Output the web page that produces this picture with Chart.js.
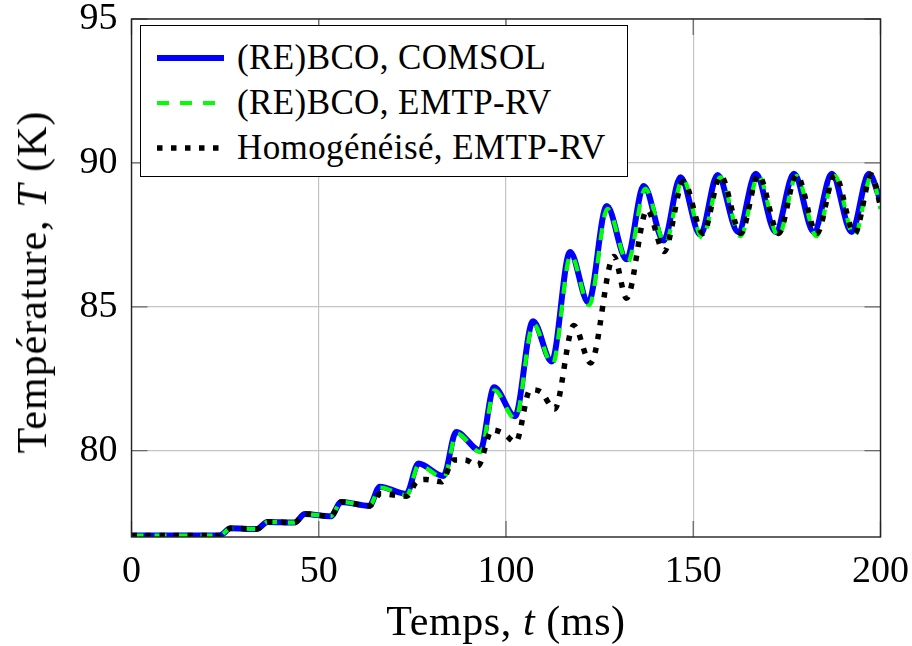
<!DOCTYPE html>
<html>
<head>
<meta charset="utf-8">
<script src="https://cdn.jsdelivr.net/npm/chart.js@4.4.1/dist/chart.umd.min.js"></script>
<style>
  html, body { margin: 0; padding: 0; background: #fff; }
  #wrap { position: relative; width: 912px; height: 646px; font-family: 'Liberation Serif', serif; color: #000; }
  #chart { position: absolute; left: 0; top: 0; }
  .title { position: absolute; white-space: nowrap; font-size: 42px; line-height: 42px; letter-spacing: 0.6px; }
  #xTitle { left: 506px; top: 621px; transform: translate(-50%, -50%); }
  #yTitle { left: 32px; top: 282px; transform: translate(-50%, -50%) rotate(-90deg); letter-spacing: 1px; }
  #legend { position: absolute; left: 140px; top: 25px; width: 486px; height: 150px; border: 1.3px solid #000; background: #fff; }
  .row { position: absolute; left: 0; height: 40px; display: flex; align-items: center; font-size: 35px; letter-spacing: 0.4px; white-space: nowrap; font-family: 'Liberation Serif', serif; }
  .row svg { margin-left: 16px; margin-right: 13px; }
</style>
</head>
<body>
<div id="wrap">
  <canvas id="chart" width="912" height="646"></canvas>
  <div id="legend"></div>
  <div id="xTitle" class="title">Temps, <i>t</i> (ms)</div>
  <div id="yTitle" class="title">Température, <i>T</i> (K)</div>
</div>
<script>
// Axis ticks
const xTickValues = [0, 50, 100, 150, 200];
const yTickValues = [80, 85, 90, 95];

// (RE)BCO, COMSOL
const comsolTime = [0, 23.5, 26.5, 33.5, 36.3, 43.5, 46.3, 53.2, 56.0, 63.5, 66.3, 73.4, 76.6, 83.3, 86.7, 93.1, 96.8, 102.4, 107.2, 112.2,
  117.1, 122.0, 126.9, 132.2, 136.8, 142.1, 146.6, 151.9, 156.5, 162.0, 166.7, 172.0, 176.9, 182.2, 187.0, 192.3, 196.9, 200];
const comsolTemp = [77.05, 77.05, 77.3, 77.28, 77.52, 77.5, 77.8, 77.72, 78.22, 78.08, 78.75, 78.5, 79.55, 79.12, 80.65, 80.0, 82.2, 81.2, 84.5, 83.1,
  86.9, 85.15, 88.5, 86.65, 89.2, 87.3, 89.5, 87.5, 89.58, 87.6, 89.62, 87.6, 89.62, 87.6, 89.62, 87.6, 89.62, 88.7];

// (RE)BCO, EMTP-RV
const emtpTime = [0, 23.5, 26.5, 33.5, 36.3, 43.5, 46.3, 53.2, 56.0, 63.5, 66.4, 73.5, 76.7, 83.4, 86.8, 93.2, 96.9, 102.5, 107.3, 112.4,
  117.3, 122.2, 127.1, 132.5, 137.2, 142.5, 147.2, 152.4, 157.2, 162.6, 167.4, 172.7, 177.6, 182.9, 187.8, 193.0, 197.6, 200];
const emtpTemp = [77.05, 77.05, 77.3, 77.28, 77.52, 77.5, 77.8, 77.72, 78.22, 78.08, 78.72, 78.45, 79.5, 79.05, 80.6, 79.95, 82.1, 81.1, 84.4, 83.0,
  86.8, 85.05, 88.4, 86.55, 89.1, 87.2, 89.45, 87.4, 89.5, 87.45, 89.55, 87.45, 89.55, 87.45, 89.55, 87.45, 89.55, 88.4];

// Homogénéisé, EMTP-RV
const homogTime = [0, 23.5, 26.5, 33.5, 36.3, 43.5, 46.3, 53.2, 56.0, 63.5, 66.5, 73.5, 76.0, 78.5, 82.8, 86.0, 89.0, 92.5, 96.3, 99.3,
  102.6, 106.5, 109.2, 113.0, 118.1, 122.6, 128.8, 132.2, 137.7, 142.2, 147.4, 152.6, 157.3, 162.7, 167.4, 172.8, 177.6, 183.0, 187.8, 193.1, 197.6, 200];
const homogTemp = [77.05, 77.05, 77.3, 77.28, 77.52, 77.5, 77.8, 77.72, 78.22, 78.08, 78.5, 78.42, 78.9, 79.0, 78.92, 79.68, 79.68, 79.48, 80.72, 80.6,
  80.3, 82.12, 82.05, 81.45, 84.35, 83.05, 86.75, 85.3, 88.37, 86.92, 89.35, 87.55, 89.55, 87.55, 89.58, 87.55, 89.58, 87.55, 89.58, 87.55, 89.58, 88.5];

const series = [
  { label: '(RE)BCO, COMSOL', time: comsolTime, temp: comsolTemp, color: '#0000ff', width: 6, dash: [], order: 3 },
  { label: '(RE)BCO, EMTP-RV', time: emtpTime, temp: emtpTemp, color: '#00ff00', width: 4.2, dash: [12, 11], order: 2 },
  { label: 'Homogénéisé, EMTP-RV', time: homogTime, temp: homogTemp, color: '#000000', width: 5.5, dash: [5.5, 8.5], order: 1 },
];

const serifFont = "'Liberation Serif', 'Times New Roman', serif";

function toPoints(time, temp) {
  return time.map((t, i) => ({ x: t, y: temp[i] }));
}

// Frame and inner ticks like pgfplots
const framePlugin = {
  id: 'frame',
  afterDraw(chart) {
    const { ctx, chartArea: a, scales } = chart;
    const tickLen = 16;
    ctx.save();
    ctx.strokeStyle = '#6a6a6a';
    ctx.lineWidth = 1.3;
    ctx.beginPath();
    xTickValues.forEach((v) => {
      const px = scales.x.getPixelForValue(v);
      ctx.moveTo(px, a.bottom); ctx.lineTo(px, a.bottom - tickLen);
      ctx.moveTo(px, a.top); ctx.lineTo(px, a.top + tickLen);
    });
    yTickValues.forEach((v) => {
      const py = scales.y.getPixelForValue(v);
      ctx.moveTo(a.left, py); ctx.lineTo(a.left + tickLen, py);
      ctx.moveTo(a.right, py); ctx.lineTo(a.right - tickLen, py);
    });
    ctx.stroke();
    ctx.strokeStyle = '#222';
    ctx.lineWidth = 1.4;
    ctx.strokeRect(a.left, a.top, a.right - a.left, a.bottom - a.top);
    ctx.restore();
  },
};

function drawChart() {
  Chart.defaults.font.family = serifFont;

  new Chart(document.getElementById('chart'), {
    type: 'line',
    data: {
      datasets: series.map((s) => ({
        label: s.label,
        data: toPoints(s.time, s.temp),
        borderColor: s.color,
        borderWidth: s.width,
        borderDash: s.dash,
        borderCapStyle: 'butt',
        borderJoinStyle: 'round',
        cubicInterpolationMode: 'monotone',
        pointRadius: 0,
        fill: false,
        order: s.order,
      })),
    },
    options: {
      responsive: false,
      devicePixelRatio: 1,
      animation: false,
      layout: { padding: { top: 19, right: 31.5, left: 0, bottom: 0 } },
      plugins: { legend: { display: false }, tooltip: { enabled: false } },
      scales: {
        x: {
          type: 'linear',
          min: 0,
          max: 200,
          afterBuildTicks: (scale) => { scale.ticks = xTickValues.map((v) => ({ value: v })); },
          afterFit: (scale) => { scale.height = 109; scale.paddingLeft = 0; scale.paddingRight = 0; },
          grid: { color: '#c4c4c4', lineWidth: 1.2, drawTicks: false },
          border: { display: false },
          ticks: { color: '#000', padding: 12, maxRotation: 0, font: { family: serifFont, size: 38 } },
        },
        y: {
          type: 'linear',
          min: 77,
          max: 95,
          afterBuildTicks: (scale) => { scale.ticks = yTickValues.map((v) => ({ value: v })); },
          afterFit: (scale) => { scale.width = 131.5; scale.paddingTop = 0; scale.paddingBottom = 0; },
          grid: { color: '#c4c4c4', lineWidth: 1.2, drawTicks: false },
          border: { display: false },
          ticks: { color: '#000', padding: 14, font: { family: serifFont, size: 38 } },
        },
      },
    },
    plugins: [framePlugin],
  });
}

// Legend with line samples
const legend = document.getElementById('legend');
series.forEach((s, i) => {
  const row = document.createElement('div');
  row.className = 'row';
  row.style.top = (12 + i * 45) + 'px';
  row.innerHTML = '<svg width="67" height="10"><line x1="0" y1="5" x2="67" y2="5" stroke="' + s.color +
    '" stroke-width="' + s.width + '" stroke-dasharray="' + (s.dash.length ? s.dash.join(' ') : 'none') + '"/></svg>' +
    '<span>' + s.label + '</span>';
  legend.appendChild(row);
});

document.fonts.load("38px 'Liberation Serif'").then(drawChart, drawChart);
</script>
</body>
</html>
